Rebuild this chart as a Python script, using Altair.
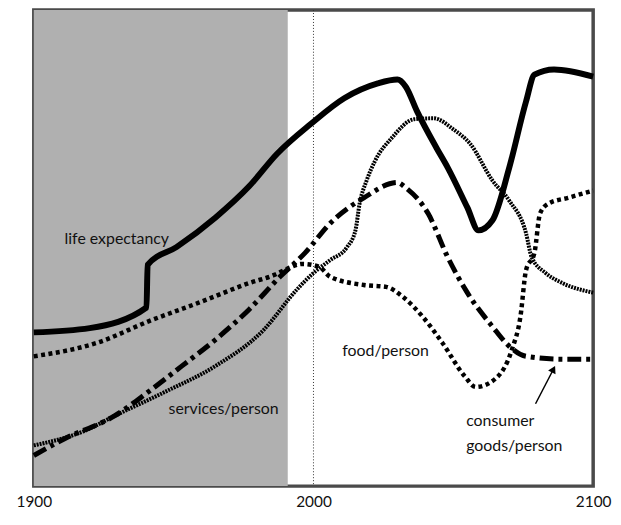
import altair as alt
import pandas as pd

# ---- data ----
life_years = [1900, 1920, 1940.3, 1940.7, 1951, 1965, 1977, 1987, 1999, 2011, 2023, 2030, 2033,
              2037, 2044, 2048, 2055, 2059, 2064, 2070, 2076, 2079, 2086, 2100]
life_values = [32.1, 33.0, 37.3, 46.2, 49.9, 56.1, 62.6, 69.4, 75.6, 81.0, 84.1, 84.9, 83.4,
               78.3, 70.6, 66.5, 58.2, 53.4, 55.5, 66.5, 80.3, 85.9, 87.0, 85.5]

food_years = [1900, 1923, 1941, 1959, 1977, 1986, 1991, 1996, 2002, 2006, 2018, 2026, 2032, 2039,
              2046, 2054, 2058, 2065, 2071, 2074, 2076, 2079, 2081, 2084, 2091, 2100]
food_values = [27.1, 30.0, 34.4, 38.3, 42.4, 44.1, 45.5, 46.4, 45.8, 43.7, 42.0, 41.6, 39.5, 35.4,
               30.0, 23.0, 20.7, 22.4, 28.6, 35.4, 45.1, 48.7, 56.9, 59.0, 60.2, 61.7]

goods_years = [1900, 1911, 1929, 1941, 1953, 1965, 1977, 1988, 1997, 2006, 2018, 2030, 2033, 2041,
               2048, 2055, 2064, 2070, 2076, 2089, 2100]
goods_values = [6.4, 9.9, 14.7, 19.7, 25.1, 30.6, 36.9, 43.7, 48.7, 54.9, 60.2, 63.4, 62.3, 56.9,
                47.8, 40.4, 33.3, 29.2, 27.1, 26.5, 26.5]

services_years = [1900, 1918, 1929, 1947, 1965, 1982, 1994, 2000, 2006, 2012, 2015, 2016.5, 2019, 2022,
                  2028, 2036, 2043, 2050, 2056, 2064, 2070, 2076, 2078, 2083, 2089, 2100]
services_values = [8.5, 11.5, 14.7, 19.7, 25.1, 32.5, 41.0, 44.5, 47.2, 49.9, 53.4, 59.0, 63.8, 67.9,
                   72.7, 76.6, 76.8, 74.5, 71.5, 63.8, 59.6, 52.8, 47.8, 44.5, 42.4, 40.4]

shade_start = [1900]
shade_end = [1990.8]
marker_year = [2000]

label_texts = ["life expectancy", "services/person", "food/person", "consumer", "goods/person"]
label_years = [1911, 1948.2, 2010.3, 2054.6, 2054.6]
label_values = [51.6, 16.1, 28.2, 13.5, 8.3]

arrow_years = [2079.4, 2085.8]
arrow_values = [17.2, 24.4]

tick_years = [1900, 2000, 2100]

YMAX = 99.4
FONT = "Lato"

xs = alt.Scale(domain=[1900, 2100], nice=False, zero=False)
ys = alt.Scale(domain=[0, YMAX], nice=False, zero=False)

xaxis = alt.Axis(values=tick_years, format="d", title=None, domain=False, ticks=False, grid=False,
                 labelFlush=False, labelFontSize=15.5, labelFont=FONT, labelColor="#111",
                 labelPadding=9)


def series(years, values):
    return pd.DataFrame({"year": years, "value": values})


def line(df, color="black", **kw):
    return alt.Chart(df).mark_line(interpolate="monotone", color=color, **kw).encode(
        x=alt.X("year:Q", scale=xs, axis=xaxis),
        y=alt.Y("value:Q", scale=ys, axis=None),
    )


shade = alt.Chart(pd.DataFrame({"a": shade_start, "b": shade_end})).mark_rect(
    color="#b0b0b0").encode(
    x=alt.X("a:Q", scale=xs, axis=xaxis), x2="b:Q",
    y=alt.value(0), y2=alt.value(480),
)

rule2000 = alt.Chart(pd.DataFrame({"year": marker_year})).mark_rule(
    color="#333", strokeWidth=1, strokeDash=[1, 2]).encode(
    x=alt.X("year:Q", scale=xs, axis=xaxis))

life = line(series(life_years, life_values), strokeWidth=6)
food = line(series(food_years, food_values), strokeWidth=4.5, strokeDash=[4, 3.5])
goods = line(series(goods_years, goods_values), strokeWidth=5, strokeDash=[14, 5, 4, 5])
services = line(series(services_years, services_values), color="black", strokeWidth=4, strokeDash=[2, 1])

labels = alt.Chart(pd.DataFrame({"t": label_texts, "year": label_years, "value": label_values})).mark_text(
    align="left", baseline="middle", font=FONT, fontSize=16, color="#111").encode(
    x=alt.X("year:Q", scale=xs, axis=xaxis),
    y=alt.Y("value:Q", scale=ys, axis=None),
    text="t:N",
)

arrow_df = pd.DataFrame({"year": arrow_years, "value": arrow_values})
arrow_line = alt.Chart(arrow_df).mark_line(color="black", strokeWidth=1.5).encode(
    x=alt.X("year:Q", scale=xs, axis=xaxis),
    y=alt.Y("value:Q", scale=ys, axis=None),
)
arrow_head = alt.Chart(arrow_df.tail(1)).mark_point(
    shape="triangle-up", filled=True, color="black", size=70, angle=27, opacity=1).encode(
    x=alt.X("year:Q", scale=xs, axis=xaxis),
    y=alt.Y("value:Q", scale=ys, axis=None),
)

chart = alt.layer(shade, rule2000, services, food, goods, life, labels, arrow_line, arrow_head).properties(
    width=564, height=480,
    padding={"left": 26, "top": 0, "right": 20, "bottom": 22},
    autosize=alt.AutoSizeParams(type="none"),
    background="white",
).configure_view(stroke="#4a4a4a", strokeWidth=3.5)

chart.save("out.html", embed_options={"renderer": "svg", "actions": False})
